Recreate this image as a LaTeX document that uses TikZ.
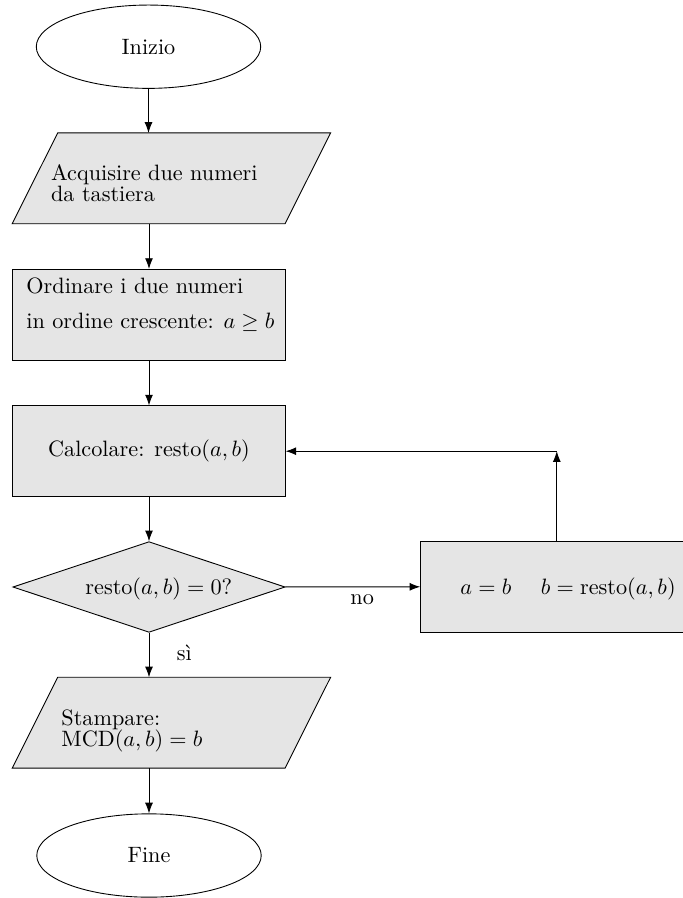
\documentclass[tikz,border=0pt]{standalone}
\usepackage{amsmath}
\usepackage{tikz}
\usetikzlibrary{arrows.meta,positioning,shapes.geometric}
\tikzset{
  terminal/.style={draw, ellipse, minimum width=101pt, minimum height=37.5pt, inner sep=0pt},
  process/.style={draw, fill=gray!20, minimum width=122.5pt, minimum height=40.8pt, inner sep=0pt},
  io/.style={minimum width=122.4pt, minimum height=40.5pt, inner sep=0pt},
  iobox/.style={draw, fill=gray!20},
  decision/.style={draw, fill=gray!20, diamond, aspect=3,
    minimum width=122.5pt, minimum height=40.8pt, inner sep=0pt},
  txt/.style={inner sep=0pt, align=left, anchor=base west}
}
\newcommand{\slantbox}[1]{%
  \filldraw[iobox] ([xshift=-10.25pt]#1.south west) -- ([xshift=-10.25pt]#1.south east)
    -- ([xshift=10.25pt]#1.north east) -- ([xshift=10.25pt]#1.north west) -- cycle;}

\begin{document}
\begin{tikzpicture}[x=0.45pt,y=-0.45pt,>=Latex]
  \useasboundingbox (0,0) rectangle (683,898);
  \node[terminal] (start) at (148.5,46.7) {Inizio};
  \node[io] (in1) at (171.4,178.3) {};
  \slantbox{in1}
  \node[txt] (in1txt) at (50.7,201.7) {Acquisire due numeri\\[-2.25pt]da tastiera};
  \node[process] (ord) at (149,314.7) {};
  \node[txt] (ordtxt) at (26,328.3) {Ordinare i due numeri\\[3.5pt]in ordine crescente: $a\geq b$};
  \node[process] (calc) at (149,451.2) {Calcolare: $\mathrm{resto}(a,b)$};
  \node[decision] (dec) at (149,587) {};
  \node[txt] (dectxt) at (85,594) {$\mathrm{resto}(a,b)=0?$};
  \node[process] (upd) at (556.8,586.7) {};
  \node[txt] (updtxt) at (460,594) {$a=b$ \quad $b=\mathrm{resto}(a,b)$};
  \node[io] (out) at (171.4,722.7) {};
  \slantbox{out}
  \node[txt] (outtxt) at (61,746.7) {Stampare:\\[-2.25pt]$\mathrm{MCD}(a,b)=b$};
  \node[terminal] (stop) at (149,855.5) {Fine};
  \coordinate (loop) at (upd.north |- calc.east);

  \draw[->] (start) -- (start |- in1.north);
  \draw[->] (in1.south -| ord) -- (ord);
  \draw[->] (ord) -- (calc);
  \draw[->] (calc) -- (dec);
  \draw[->] (dec) -- node[pos=0.57,below] (no) {no} (upd);
  \draw[->] (dec) -- node[pos=0.45,right=9pt] (si) {sì} (dec |- out.north);
  \draw[->] (out.south -| stop) -- (stop);
  \draw[->] (upd) -- (loop);
  \draw[->] (loop) -- (calc);
\end{tikzpicture}
\end{document}
